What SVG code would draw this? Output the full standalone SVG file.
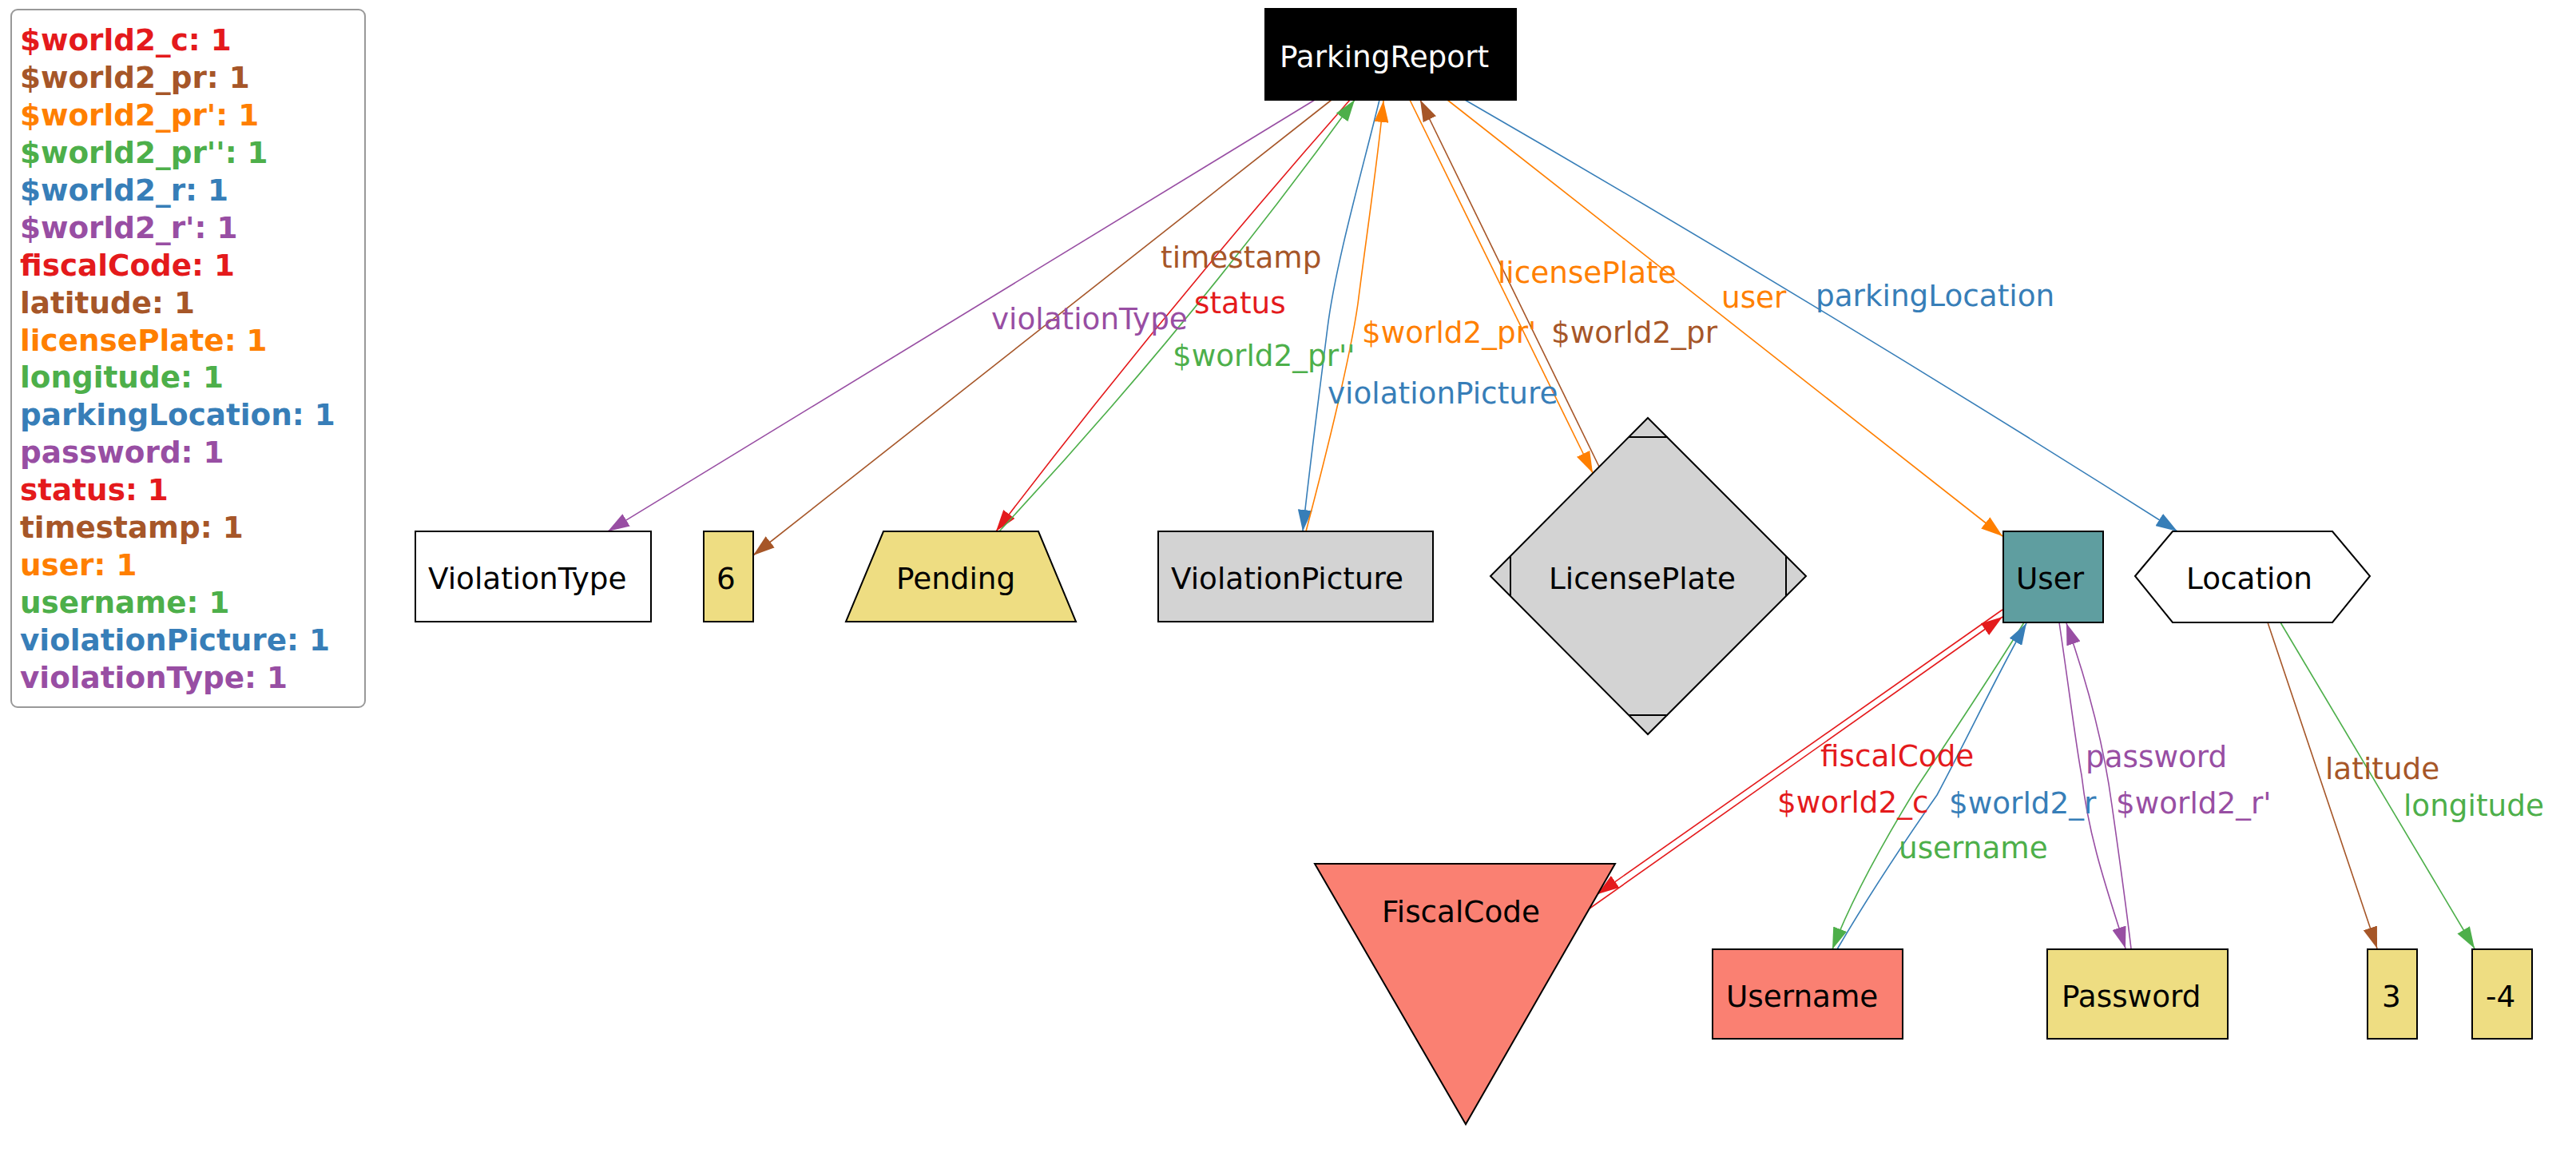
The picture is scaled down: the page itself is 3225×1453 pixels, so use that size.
<svg xmlns="http://www.w3.org/2000/svg" width="3225" height="1453" viewBox="0 0 3225 1453">
<style>
text{font-family:"DejaVu Sans","Liberation Sans",sans-serif;font-size:37.33px}
.lg{font-weight:bold}
.node{stroke:#000;stroke-width:2}
.e{fill:none;stroke-width:1.6}
.red{fill:#e41a1c}.brown{fill:#a65628}.orange{fill:#ff7f00}.green{fill:#4daf4a}.blue{fill:#377eb8}.purple{fill:#984ea3}
.sred{stroke:#e41a1c}.sbrown{stroke:#a65628}.sorange{stroke:#ff7f00}.sgreen{stroke:#4daf4a}.sblue{stroke:#377eb8}.spurple{stroke:#984ea3}
</style>
<defs>
<marker id="m-red" viewBox="0 0 27 18" refX="27" refY="9" markerWidth="27" markerHeight="18" markerUnits="userSpaceOnUse" orient="auto"><path d="M0,0 L27,9 L0,18 z" fill="#e41a1c"/></marker>
<marker id="m-brown" viewBox="0 0 27 18" refX="27" refY="9" markerWidth="27" markerHeight="18" markerUnits="userSpaceOnUse" orient="auto"><path d="M0,0 L27,9 L0,18 z" fill="#a65628"/></marker>
<marker id="m-orange" viewBox="0 0 27 18" refX="27" refY="9" markerWidth="27" markerHeight="18" markerUnits="userSpaceOnUse" orient="auto"><path d="M0,0 L27,9 L0,18 z" fill="#ff7f00"/></marker>
<marker id="m-green" viewBox="0 0 27 18" refX="27" refY="9" markerWidth="27" markerHeight="18" markerUnits="userSpaceOnUse" orient="auto"><path d="M0,0 L27,9 L0,18 z" fill="#4daf4a"/></marker>
<marker id="m-blue" viewBox="0 0 27 18" refX="27" refY="9" markerWidth="27" markerHeight="18" markerUnits="userSpaceOnUse" orient="auto"><path d="M0,0 L27,9 L0,18 z" fill="#377eb8"/></marker>
<marker id="m-purple" viewBox="0 0 27 18" refX="27" refY="9" markerWidth="27" markerHeight="18" markerUnits="userSpaceOnUse" orient="auto"><path d="M0,0 L27,9 L0,18 z" fill="#984ea3"/></marker>
</defs>
<rect width="3225" height="1453" fill="#fff"/>

<g id="legend">
<rect x="14" y="12" width="443" height="873" rx="8" fill="#fff" stroke="#999" stroke-width="2"/>
<text class="lg red" x="25" y="63">$world2_c: 1</text>
<text class="lg brown" x="25" y="110">$world2_pr: 1</text>
<text class="lg orange" x="25" y="157">$world2_pr': 1</text>
<text class="lg green" x="25" y="204">$world2_pr'': 1</text>
<text class="lg blue" x="25" y="251">$world2_r: 1</text>
<text class="lg purple" x="25" y="298">$world2_r': 1</text>
<text class="lg red" x="25" y="345">fiscalCode: 1</text>
<text class="lg brown" x="25" y="392">latitude: 1</text>
<text class="lg orange" x="25" y="439">licensePlate: 1</text>
<text class="lg green" x="25" y="485">longitude: 1</text>
<text class="lg blue" x="25" y="532">parkingLocation: 1</text>
<text class="lg purple" x="25" y="579">password: 1</text>
<text class="lg red" x="25" y="626">status: 1</text>
<text class="lg brown" x="25" y="673">timestamp: 1</text>
<text class="lg orange" x="25" y="720">user: 1</text>
<text class="lg green" x="25" y="767">username: 1</text>
<text class="lg blue" x="25" y="814">violationPicture: 1</text>
<text class="lg purple" x="25" y="861">violationType: 1</text>
</g>

<g id="connectors">
<path class="e spurple" d="M1646,125 L761,665" marker-end="url(#m-purple)"/>
<path class="e sbrown" d="M1667,125 L943,695" marker-end="url(#m-brown)"/>
<path class="e sred" d="M1690,125 Q1459,387 1247,665" marker-end="url(#m-red)"/>
<path class="e sgreen" d="M1251,665 Q1490,409 1696,125" marker-end="url(#m-green)"/>
<path class="e sblue" d="M1727,125 C1705,215 1672,330 1662,410 C1652,490 1640,580 1631,665" marker-end="url(#m-blue)"/>
<path class="e sorange" d="M1635,665 C1660,570 1690,450 1700,380 C1710,300 1725,200 1732,126" marker-end="url(#m-orange)"/>
<path class="e sorange" d="M1765,125 L1994,592" marker-end="url(#m-orange)"/>
<path class="e sbrown" d="M2002,584 L1778,125" marker-end="url(#m-brown)"/>
<path class="e sorange" d="M1812,125 L2507,671" marker-end="url(#m-orange)"/>
<path class="e sblue" d="M1834,125 Q2285,385 2726,665" marker-end="url(#m-blue)"/>
<path class="e sred" d="M2507,763 L2000,1119" marker-end="url(#m-red)"/>
<path class="e sred" d="M1990,1137 L2507,772" marker-end="url(#m-red)"/>
<path class="e sgreen" d="M2534,779 C2490,850 2440,925 2400,985 C2360,1050 2320,1120 2294,1188" marker-end="url(#m-green)"/>
<path class="e sblue" d="M2300,1188 C2340,1120 2390,1045 2425,995 C2465,920 2505,835 2537,780" marker-end="url(#m-blue)"/>
<path class="e spurple" d="M2578,779 C2590,860 2600,940 2606,970 C2615,1050 2640,1120 2661,1187" marker-end="url(#m-purple)"/>
<path class="e spurple" d="M2668,1187 C2660,1120 2650,1050 2644,1008 C2635,940 2615,860 2587,780" marker-end="url(#m-purple)"/>
<path class="e sbrown" d="M2839,779 L2976,1187" marker-end="url(#m-brown)"/>
<path class="e sgreen" d="M2855,779 L3098,1187" marker-end="url(#m-green)"/>

<text class="purple" x="1241" y="412">violationType</text>
<text class="brown" x="1453" y="335">timestamp</text>
<text class="red" x="1495" y="392">status</text>
<text class="green" x="1468" y="458">$world2_pr''</text>
<text class="blue" x="1662" y="505">violationPicture</text>
<text class="orange" x="1705" y="429">$world2_pr'</text>
<text class="orange" x="1875" y="354">licensePlate</text>
<text class="brown" x="1942" y="429">$world2_pr</text>
<text class="orange" x="2155" y="385">user</text>
<text class="blue" x="2273" y="383">parkingLocation</text>
<text class="red" x="2279" y="959">fiscalCode</text>
<text class="red" x="2225" y="1017">$world2_c</text>
<text class="blue" x="2440" y="1018">$world2_r</text>
<text class="green" x="2377" y="1074">username</text>
<text class="purple" x="2611" y="960">password</text>
<text class="purple" x="2649" y="1018">$world2_r'</text>
<text class="brown" x="2911" y="975">latitude</text>
<text class="green" x="3009" y="1021">longitude</text>
</g>

<g id="ParkingReport">
<rect class="node" x="1584" y="11" width="314" height="114" fill="#000"/>
<text x="1602" y="84" fill="#fff">ParkingReport</text>
</g>
<g id="ViolationType">
<rect class="node" x="520" y="665" width="295" height="113" fill="#fff"/>
<text x="536" y="737">ViolationType</text>
</g>
<g id="n6">
<rect class="node" x="881" y="665" width="62" height="113" fill="#eedd82"/>
<text x="897" y="737">6</text>
</g>
<g id="Pending">
<polygon class="node" points="1106,665 1300,665 1347,778 1059,778" fill="#eedd82"/>
<text x="1122" y="737">Pending</text>
</g>
<g id="ViolationPicture">
<rect class="node" x="1450" y="665" width="344" height="113" fill="#d3d3d3"/>
<text x="1466" y="737">ViolationPicture</text>
</g>
<g id="LicensePlate">
<polygon class="node" points="2063,523 2261,721 2063,919 1866,721" fill="#d3d3d3"/>
<path class="node" fill="none" d="M1891,696 L1891,746 M2236,696 L2236,746 M2039,547 L2088,547 M2039,895 L2088,895"/>
<text x="1939" y="737">LicensePlate</text>
</g>
<g id="User">
<rect class="node" x="2508" y="665" width="125" height="114" fill="#5f9ea0"/>
<text x="2524" y="737">User</text>
</g>
<g id="Location">
<polygon class="node" points="2673,721 2720,665 2920,665 2967,721 2920,779 2720,779" fill="#fff"/>
<text x="2737" y="737">Location</text>
</g>
<g id="FiscalCode">
<polygon class="node" points="1646,1081 2022,1081 1835,1407" fill="#fa8072"/>
<text x="1730" y="1154">FiscalCode</text>
</g>
<g id="Username">
<rect class="node" x="2144" y="1188" width="238" height="112" fill="#fa8072"/>
<text x="2161" y="1260">Username</text>
</g>
<g id="Password">
<rect class="node" x="2563" y="1188" width="226" height="112" fill="#eedd82"/>
<text x="2581" y="1260">Password</text>
</g>
<g id="n3">
<rect class="node" x="2964" y="1188" width="62" height="112" fill="#eedd82"/>
<text x="2982" y="1260">3</text>
</g>
<g id="nminus4">
<rect class="node" x="3095" y="1188" width="75" height="112" fill="#eedd82"/>
<text x="3112" y="1260">-4</text>
</g>
</svg>
